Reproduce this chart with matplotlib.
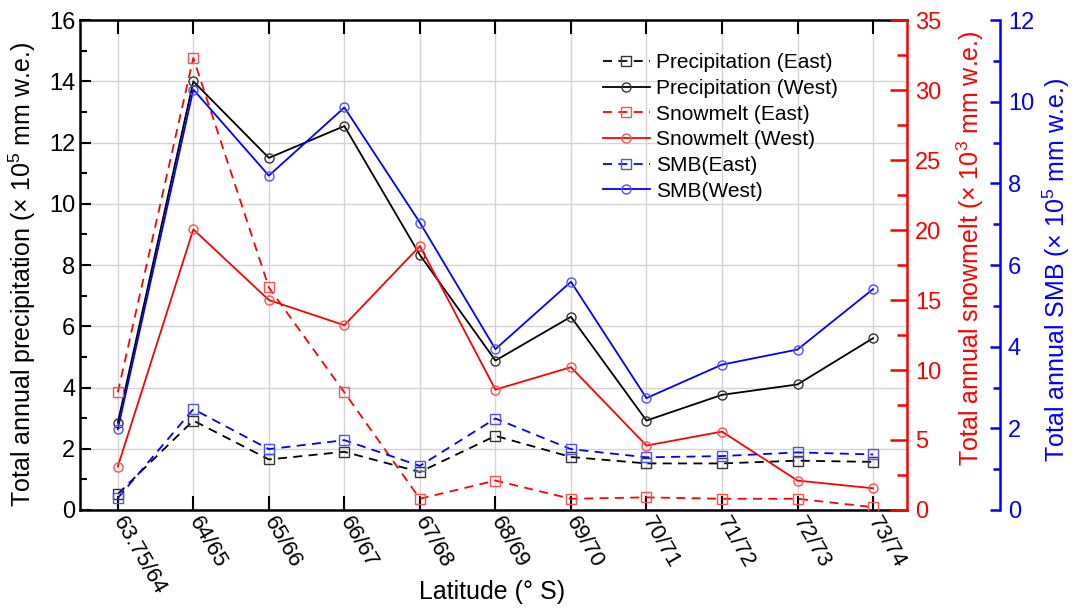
import numpy as np
import matplotlib
matplotlib.use('Agg')
import matplotlib.pyplot as plt
from matplotlib.ticker import MultipleLocator

plt.rcParams['font.family'] = ['Liberation Sans', 'DejaVu Sans']
plt.rcParams['mathtext.fontset'] = 'custom'
plt.rcParams['mathtext.rm'] = 'Liberation Sans'
plt.rcParams['mathtext.it'] = 'Liberation Sans:italic'

latitudes = ['63.75/64', '64/65', '65/66', '66/67', '67/68', '68/69',
             '69/70', '70/71', '71/72', '72/73', '73/74']

# precipitation (x 10^5 mm w.e.)
precip_east = [0.52, 2.92, 1.65, 1.90, 1.24, 2.42, 1.73, 1.52, 1.52, 1.61, 1.57]
precip_west = [2.85, 14.0, 11.5, 12.54, 8.33, 4.88, 6.31, 2.92, 3.76, 4.10, 5.61]
# snowmelt (x 10^3 mm w.e.)
snow_east = [8.4, 32.3, 15.9, 8.4, 0.8, 2.1, 0.8, 0.9, 0.8, 0.8, 0.2]
snow_west = [3.1, 20.05, 15.0, 13.2, 18.86, 8.6, 10.2, 4.6, 5.6, 2.1, 1.55]
# SMB (x 10^5 mm w.e.)
smb_east = [0.29, 2.47, 1.49, 1.71, 1.08, 2.24, 1.49, 1.29, 1.32, 1.41, 1.36]
smb_west = [1.98, 10.3, 8.19, 9.86, 7.04, 3.94, 5.59, 2.74, 3.56, 3.93, 5.41]

RED = '#ff0000'
BLUE = '#0000ff'
tick_fs = 17
label_fs = 18

fig = plt.figure(figsize=(10.73, 6.10), dpi=100)
ax = fig.add_axes([0.0746, 0.164, 0.7707, 0.803])
ax2 = ax.twinx()
ax3 = ax.twinx()

x = np.arange(len(latitudes))
lw = 1.3
dash = (5, 3.5)
mk = dict(markersize=6.5, markerfacecolor='none', markeredgewidth=1.0)

h1, = ax.plot(x, precip_east, color='black', lw=lw, ls='--', dashes=dash, marker='s',
              markeredgecolor='#333333', label='Precipitation (East)', **mk)
h2, = ax.plot(x, precip_west, color='black', lw=lw, marker='o',
              markeredgecolor='#333333', label='Precipitation (West)', **mk)
h3, = ax2.plot(x, snow_east, color=RED, lw=lw, ls='--', dashes=dash, marker='s',
               markeredgecolor='#ff5050', label='Snowmelt (East)', **mk)
h4, = ax2.plot(x, snow_west, color=RED, lw=lw, marker='o',
               markeredgecolor='#ff5050', label='Snowmelt (West)', **mk)
h5, = ax3.plot(x, smb_east, color=BLUE, lw=lw, ls='--', dashes=dash, marker='s',
               markeredgecolor='#5050ff', label='SMB(East)', **mk)
h6, = ax3.plot(x, smb_west, color=BLUE, lw=lw, marker='o',
               markeredgecolor='#5050ff', label='SMB(West)', **mk)

# left axis
ax.set_xlim(-0.5, 10.45)
ax.set_ylim(0, 16)
ax.yaxis.set_major_locator(MultipleLocator(2))
ax.yaxis.set_minor_locator(MultipleLocator(1))
ax.set_xticks(x)
ax.set_xticklabels(latitudes, rotation=-60, ha='left', va='center',
                   rotation_mode='anchor', fontsize=16)
ax.grid(True, color='#d4d4d4', lw=1.0)
ax.set_axisbelow(True)
ax.tick_params(axis='y', which='major', direction='in', length=8, width=1.5,
               labelsize=tick_fs, right=False)
ax.tick_params(axis='y', which='minor', direction='in', length=5, width=1.5, right=False)
ax.tick_params(axis='x', which='major', direction='in', length=10, width=1.5,
               top=True, pad=6)
for s in ['left', 'bottom', 'top']:
    ax.spines[s].set_linewidth(1.8)
ax.spines['right'].set_visible(False)
ax.set_ylabel(r'Total annual precipitation ($\times$ 10$^5$ mm w.e.)', fontsize=label_fs)
ax.yaxis.set_label_coords(-0.051, 0.48)
ax.set_xlabel('Latitude (° S)', fontsize=label_fs)
ax.xaxis.set_label_coords(0.498, -0.143)

# snowmelt axis
ax2.set_ylim(0, 35)
ax2.yaxis.set_major_locator(MultipleLocator(5))
ax2.yaxis.set_minor_locator(MultipleLocator(2.5))
ax2.tick_params(axis='y', which='major', direction='in', length=12, width=1.8,
                colors=RED, labelsize=tick_fs, pad=6)
ax2.tick_params(axis='y', which='minor', direction='in', length=7, width=1.8, colors=RED)
for s in ['left', 'bottom', 'top']:
    ax2.spines[s].set_visible(False)
ax2.spines['right'].set_color(RED)
ax2.spines['right'].set_linewidth(1.8)
ax2.set_ylabel(r'Total annual snowmelt ($\times$ 10$^3$ mm w.e.)', color=RED,
               fontsize=label_fs)
ax2.yaxis.set_label_coords(1.058, 0.535)

# SMB axis
ax3.set_ylim(0, 12)
ax3.spines['right'].set_position(('axes', 1.112))
ax3.yaxis.set_major_locator(MultipleLocator(2))
ax3.yaxis.set_minor_locator(MultipleLocator(1))
ax3.tick_params(axis='y', which='major', direction='in', length=7, width=1.8,
                colors=BLUE, labelsize=tick_fs, pad=6)
ax3.tick_params(axis='y', which='minor', direction='in', length=5, width=1.8, colors=BLUE)
for s in ['left', 'bottom', 'top']:
    ax3.spines[s].set_visible(False)
ax3.spines['right'].set_color(BLUE)
ax3.spines['right'].set_linewidth(1.8)
ax3.set_ylabel(r'Total annual SMB ($\times$ 10$^5$ mm w.e.)', color=BLUE,
               fontsize=label_fs)
ax3.yaxis.set_label_coords(1.162, 0.49)

ax.legend(handles=[h1, h2, h3, h4, h5, h6], loc='upper left',
          bbox_to_anchor=(0.632, 0.932), frameon=False, fontsize=15,
          handlelength=2.25, handletextpad=0.3, labelspacing=0.32,
          borderpad=0, borderaxespad=0)

fig.savefig('out.png', dpi=100)
